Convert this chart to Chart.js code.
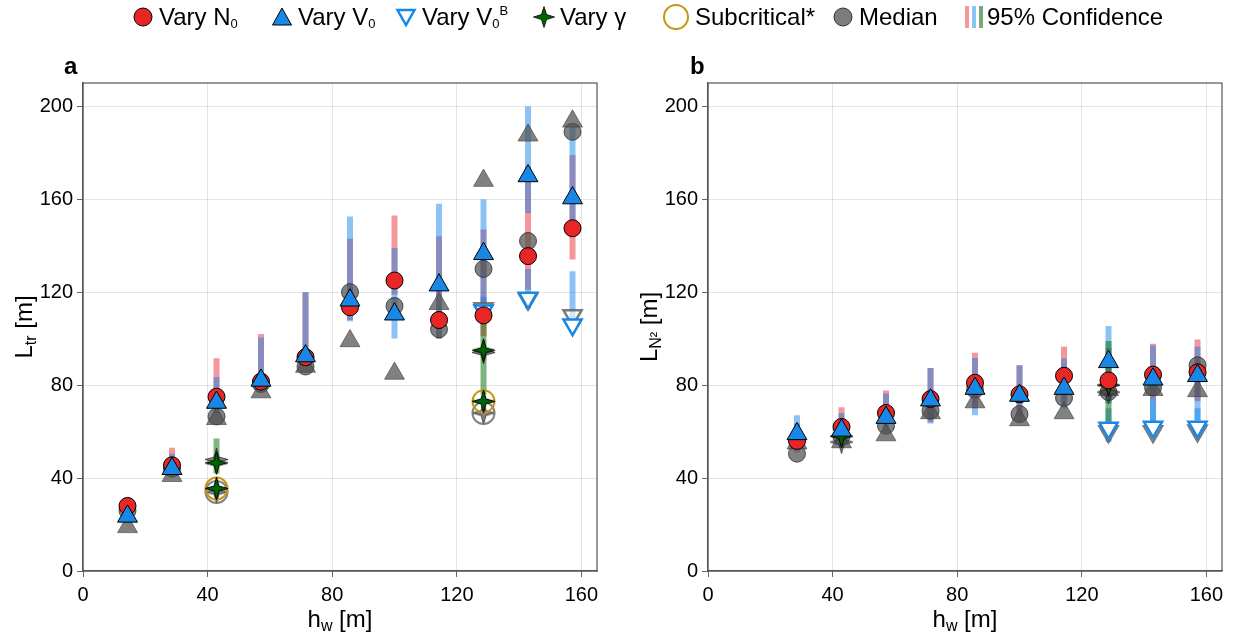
<!DOCTYPE html>
<html>
<head>
<meta charset="utf-8">
<script src="https://cdn.jsdelivr.net/npm/chart.js@4.4.0/dist/chart.umd.min.js"></script>
<style>
  body { margin: 0; background: #fff; font-family: "Liberation Sans", Arial, sans-serif; }
  #wrap { position: relative; width: 1240px; height: 637px; }
  .panel { position: absolute; top: 0; width: 620px; height: 637px; }
  .tag { position: absolute; top: 52px; font-weight: bold; font-size: 24px; }
  .item { position: absolute; top: 2px; height: 30px; display: flex; align-items: center; font-size: 24px; white-space: nowrap; }
  .item svg { margin-right: 5px; }
  .item sub { font-size: 13px; vertical-align: baseline; position: relative; top: 3px; }
  .item sup { font-size: 13px; vertical-align: baseline; position: relative; top: -10px; }
</style>
</head>
<body>
<div id="wrap">
  <div class="panel" style="left:0"><canvas id="chartA" width="620" height="637"></canvas></div>
  <div class="panel" style="left:620px"><canvas id="chartB" width="620" height="637"></canvas></div>
  <div class="tag" style="left:64px">a</div>
  <div class="tag" style="left:690px">b</div>

  <div class="item" style="left:132px"><svg width="22" height="22"><circle cx="11" cy="11" r="9" fill="rgb(232,38,38)" stroke="#000"/></svg><span>Vary N<sub>0</sub></span></div>
  <div class="item" style="left:271px"><svg width="22" height="22"><polygon points="11,2 20.5,19 1.5,19" fill="rgb(25,135,230)" stroke="#000"/></svg><span>Vary V<sub>0</sub></span></div>
  <div class="item" style="left:395px"><svg width="22" height="22"><polygon points="2.5,4 19.5,4 11,19" fill="#fff" stroke="rgb(25,135,230)" stroke-width="2.5"/></svg><span>Vary V<sub>0</sub><sup>B</sup></span></div>
  <div class="item" style="left:533px"><svg width="22" height="22"><polygon points="11,0.5 13.5,8.5 21.5,11 13.5,13.5 11,21.5 8.5,13.5 0.5,11 8.5,8.5" fill="rgb(0,100,0)" stroke="#000" stroke-width="0.8"/></svg><span>Vary γ</span></div>
  <div class="item" style="left:662px"><svg width="28" height="28"><circle cx="14" cy="14" r="12" fill="none" stroke="rgb(200,150,20)" stroke-width="2"/></svg><span>Subcritical*</span></div>
  <div class="item" style="left:832px"><svg width="22" height="22"><circle cx="11" cy="11" r="9" fill="rgb(124,124,124)" stroke="#333"/></svg><span>Median</span></div>
  <div class="item" style="left:963px"><svg width="22" height="24" style="margin-right:2px"><rect x="2" y="1" width="4" height="22" fill="rgb(245,150,155)"/><rect x="9" y="1" width="4" height="22" fill="rgb(140,195,245)"/><rect x="16" y="1" width="4" height="22" fill="rgb(120,170,120)"/></svg><span>95% Confidence</span></div>
</div>

<script>
// water depth h_w [m]
const hw = [14.29, 28.57, 42.86, 57.14, 71.43, 85.71, 100, 114.29, 128.57, 142.86, 157.14];
const xTicks = [0, 40, 80, 120, 160];
const yTicks = [0, 40, 80, 120, 160, 200];
const _ = null;

// panel a: L_tr
const aN0    = [28, 45.5, 75, 81.5, 92, 113.5, 125, 108, 110, 135.5, 147.5];
const aN0Lo  = [25, 42, 70, 78, 88, 108, 119, 100, 101, 121, 134];
const aN0Hi  = [31, 53, 91.5, 102, 120, 143, 153, 144, 147, 174, 179];
const aN0Med = [26, 44, 66.5, 80.5, 88, 120, 114, 104, 130, 142, 189];
const aV0    = [23.5, 44, 72.5, 82, 92.5, 116.5, 110.5, 123, 136.5, 170, 160.5];
const aV0Lo  = [21, 41, 68, 78, 88, 107.5, 100, 100, 113, 154, 150];
const aV0Hi  = [26, 50.5, 83.5, 100.5, 120, 152.5, 139, 158, 160, 200, 191];
const aV0Med = [19, 41, 65.5, 77, 88, 99, 85, 115, 168, 187.5, 193.5];
const aV0B    = [_, _, _, _, _, _, _, _, 112, 117.5, 106];
const aV0BLo  = [_, _, _, _, _, _, _, _, 107, 113, 104];
const aV0BHi  = [_, _, _, _, _, _, _, _, 118, 130, 129];
const aV0BMed = [_, _, _, _, _, _, _, _, 113, 117, 110];
const aGam    = [_, _, 46.5, _, _, _, _, _, 95, _, _];
const aGamLo  = [_, _, 42, _, _, _, _, _, 76, _, _];
const aGamHi  = [_, _, 57, _, _, _, _, _, 108, _, _];
const aGamMed = [_, _, 48, _, _, _, _, _, 94, _, _];
const aSub    = [_, _, 35.5, _, _, _, _, _, 73, _, _];
const aSubMed = [_, _, 34, _, _, _, _, _, 68, _, _];

// panel b: L_N²
const bN0    = [_, 56, 62, 68, 74, 81, 76, 84, 82, 84.5, 85.5];
const bN0Lo  = [_, 51, 57, 63, 64, 70, 67, 73, 73, 73, 73];
const bN0Hi  = [_, 63.5, 70.5, 77.7, 87.4, 93.9, 88.5, 96.6, 96, 97.8, 99.6];
const bN0Med = [_, 50.5, 58, 62.5, 69, 78, 67.5, 74.5, 77, 79, 88.5];
const bV0    = [_, 59, 60.5, 66, 73.5, 78.5, 75.5, 78.5, 90, 82.5, 84];
const bV0Lo  = [_, 54, 53, 60, 63.5, 67, 64, 70, 72, 60, 65];
const bV0Hi  = [_, 67, 68, 76.4, 87.4, 91.7, 88.5, 91.4, 105.4, 97, 96.6];
const bV0Med = [_, 55, 55.5, 58.5, 68, 72.7, 65, 68, 78, 78, 77.5];
const bV0B    = [_, _, _, _, _, _, _, _, 61.5, 62, 62];
const bV0BLo  = [_, _, _, _, _, _, _, _, 55.5, 58, 58];
const bV0BHi  = [_, _, _, _, _, _, _, _, 70, 73, 70];
const bV0BMed = [_, _, _, _, _, _, _, _, 60, 60, 60.3];
const bGam    = [_, _, 58, _, _, _, _, _, 80, _, _];
const bGamLo  = [_, _, 54, _, _, _, _, _, 58, _, _];
const bGamHi  = [_, _, 62, _, _, _, _, _, 99, _, _];
const bGamMed = [_, _, 55.5, _, _, _, _, _, 77, _, _];
const bSub    = [_, _, _, _, _, _, _, _, _, _, _];
const bSubMed = [_, _, _, _, _, _, _, _, _, _, _];

const RED = "rgb(232,38,38)", RED_CI = "rgba(235,45,55,0.5)";
const BLUE = "rgb(25,135,230)", BLUE_CI = "rgba(15,130,234,0.48)";
const GREEN = "rgb(0,100,0)", GREEN_CI = "rgba(0,110,0,0.5)";
const GOLD = "rgb(200,150,20)";
const GRAY = "rgba(80,80,80,0.72)", GRAY_EDGE = "rgba(30,30,30,0.7)";

Chart.defaults.font.family = "'Liberation Sans', Arial, sans-serif";
Chart.defaults.color = "#000";

function starImage(R, fill, stroke) {
  const c = document.createElement("canvas");
  c.width = c.height = 2 * R + 4;
  const g = c.getContext("2d");
  const m = R + 2, r = R * 0.3;
  g.beginPath();
  for (let i = 0; i < 8; i++) {
    const a = i * Math.PI / 4 - Math.PI / 2;
    const d = i % 2 ? r : R;
    g.lineTo(m + d * Math.cos(a), m + d * Math.sin(a));
  }
  g.closePath();
  g.fillStyle = fill;
  g.fill();
  g.strokeStyle = stroke;
  g.lineWidth = 1;
  g.stroke();
  return c;
}
const greenStar = starImage(11.5, GREEN, "#000");
const grayStar = starImage(11.5, GRAY, GRAY_EDGE);

function points(ys) {
  return hw.map((x, i) => ({ x: x, y: ys[i] })).filter((p) => p.y != null);
}
function bars(lo, hi) {
  const out = [];
  hw.forEach((x, i) => {
    if (lo[i] == null) return;
    out.push({ x: x, y: lo[i] }, { x: x, y: hi[i] }, { x: x, y: null });
  });
  return out;
}
function ci(lo, hi, color) {
  return {
    data: bars(lo, hi), showLine: true, spanGaps: false,
    borderColor: color, borderWidth: 6, borderCapStyle: "butt",
    pointRadius: 0,
  };
}
function mark(ys, style) {
  return Object.assign({ data: points(ys), showLine: false }, style);
}

const circle = (fill, edge) => ({ pointStyle: "circle", pointRadius: 8.5, pointBackgroundColor: fill, pointBorderColor: edge, pointBorderWidth: 1 });
const triUp = (fill, edge) => ({ pointStyle: "triangle", pointRadius: 11.5, pointBackgroundColor: fill, pointBorderColor: edge, pointBorderWidth: 1 });
const triDown = (fill, edge, w) => ({ pointStyle: "triangle", pointRotation: 180, pointRadius: 10.5, pointBackgroundColor: fill, pointBorderColor: edge, pointBorderWidth: w });
const ring = (edge) => ({ pointStyle: "circle", pointRadius: 11, pointBackgroundColor: "rgba(0,0,0,0)", pointBorderColor: edge, pointBorderWidth: 2 });
const star = (img) => ({ pointStyle: img, pointRadius: 12 });

function panelDatasets(d) {
  // listed bottom to top
  const list = [
    ci(d.n0Lo, d.n0Hi, RED_CI),
    ci(d.v0Lo, d.v0Hi, BLUE_CI),
    ci(d.v0bLo, d.v0bHi, BLUE_CI),
    ci(d.gamLo, d.gamHi, GREEN_CI),
    mark(d.n0Med, circle(GRAY, GRAY_EDGE)),
    mark(d.v0Med, triUp(GRAY, "rgba(60,60,60,0.6)")),
    mark(d.v0bMed, triDown("rgba(255,255,255,0.6)", "rgba(90,90,90,0.8)", 2.5)),
    mark(d.gamMed, star(grayStar)),
    mark(d.subMed, star(grayStar)),
    mark(d.subMed, ring("rgba(110,110,110,0.85)")),
    mark(d.v0b, triDown("#fff", BLUE, 2.5)),
    mark(d.gam, star(greenStar)),
    mark(d.sub, ring(GOLD)),
    mark(d.sub, star(greenStar)),
    mark(d.n0, circle(RED, "#000")),
    mark(d.v0, triUp(BLUE, "#000")),
  ];
  list.forEach((ds, i) => { ds.order = list.length - i; });
  return list;
}

function drawRich(ctx, parts, x, y, size, vertical) {
  const big = size + "px 'Liberation Sans', Arial, sans-serif";
  const small = Math.round(size * 0.68) + "px 'Liberation Sans', Arial, sans-serif";
  let total = 0;
  parts.forEach((p) => {
    ctx.font = p.sub ? small : big;
    p.w = ctx.measureText(p.t).width;
    total += p.w;
  });
  ctx.save();
  ctx.translate(x, y);
  if (vertical) ctx.rotate(-Math.PI / 2);
  ctx.fillStyle = "#000";
  ctx.textBaseline = "middle";
  let cx = -total / 2;
  parts.forEach((p) => {
    ctx.font = p.sub ? small : big;
    ctx.fillText(p.t, cx, p.sub ? size * 0.28 : 0);
    cx += p.w;
  });
  ctx.restore();
}

const frame = {
  id: "frame",
  afterDraw(chart, args, opts) {
    const a = chart.chartArea, ctx = chart.ctx;
    ctx.save();
    ctx.strokeStyle = "#555";
    ctx.lineWidth = 1.2;
    ctx.strokeRect(a.left, a.top, a.right - a.left, a.bottom - a.top);
    ctx.restore();
    drawRich(ctx, opts.yTitle, opts.yTitleX, (a.top + a.bottom) / 2, 24, true);
    drawRich(ctx, opts.xTitle, (a.left + a.right) / 2, 620, 24, false);
  },
};

function makeChart(id, d, yWidth, rightPad, yTitle, yTitleX) {
  const ctx = document.getElementById(id).getContext("2d");
  return new Chart(ctx, {
    type: "scatter",
    data: { datasets: panelDatasets(d) },
    options: {
      responsive: false,
      animation: false,
      events: [],
      devicePixelRatio: 1,
      layout: { padding: { top: 83, right: rightPad, left: 0, bottom: 0 } },
      scales: {
        x: {
          type: "linear", min: 0, max: 165,
          afterFit: (s) => { s.height = 66; },
          afterBuildTicks: (s) => { s.ticks = xTicks.map((v) => ({ value: v })); },
          ticks: { font: { size: 20 }, padding: 6, includeBounds: false, maxRotation: 0 },
          grid: { color: "rgba(0,0,0,0.1)", tickColor: "#666", tickLength: 6 },
          border: { color: "#555", width: 1.2 },
        },
        y: {
          type: "linear", min: 0, max: 210,
          afterFit: (s) => { s.width = yWidth; },
          afterBuildTicks: (s) => { s.ticks = yTicks.map((v) => ({ value: v })); },
          ticks: { font: { size: 20 }, padding: 4, includeBounds: false },
          grid: { color: "rgba(0,0,0,0.1)", tickColor: "#666", tickLength: 6 },
          border: { color: "#555", width: 1.2 },
        },
      },
      plugins: {
        legend: { display: false },
        tooltip: { enabled: false },
        frame: {
          yTitle: yTitle, yTitleX: yTitleX,
          xTitle: [{ t: "h" }, { t: "w", sub: true }, { t: " [m]" }],
        },
      },
    },
    plugins: [frame],
  });
}

makeChart("chartA", {
  n0: aN0, n0Lo: aN0Lo, n0Hi: aN0Hi, n0Med: aN0Med,
  v0: aV0, v0Lo: aV0Lo, v0Hi: aV0Hi, v0Med: aV0Med,
  v0b: aV0B, v0bLo: aV0BLo, v0bHi: aV0BHi, v0bMed: aV0BMed,
  gam: aGam, gamLo: aGamLo, gamHi: aGamHi, gamMed: aGamMed,
  sub: aSub, subMed: aSubMed,
}, 83, 23, [{ t: "L" }, { t: "tr", sub: true }, { t: " [m]" }], 25);

makeChart("chartB", {
  n0: bN0, n0Lo: bN0Lo, n0Hi: bN0Hi, n0Med: bN0Med,
  v0: bV0, v0Lo: bV0Lo, v0Hi: bV0Hi, v0Med: bV0Med,
  v0b: bV0B, v0bLo: bV0BLo, v0bHi: bV0BHi, v0bMed: bV0BMed,
  gam: bGam, gamLo: bGamLo, gamHi: bGamHi, gamMed: bGamMed,
  sub: bSub, subMed: bSubMed,
}, 88, 18, [{ t: "L" }, { t: "N²", sub: true }, { t: " [m]" }], 30);
</script>
</body>
</html>
